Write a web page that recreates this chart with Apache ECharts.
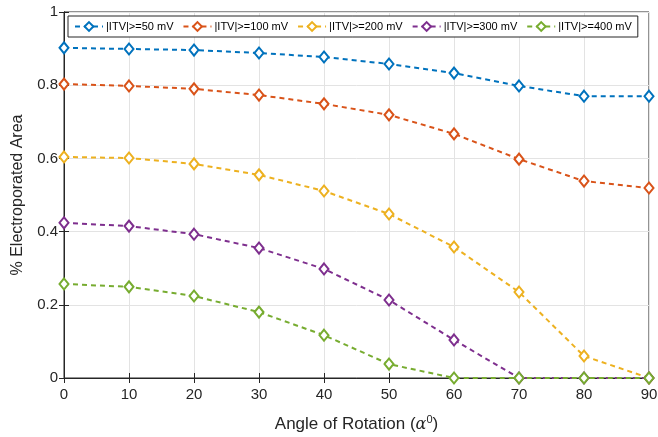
<!DOCTYPE html>
<html>
<head>
<meta charset="utf-8">
<script src="https://cdn.jsdelivr.net/npm/echarts@6/dist/echarts.min.js"></script>
<style>
html,body{margin:0;padding:0;background:#fff;}
#main{width:658px;height:437px;}
</style>
</head>
<body>
<div id="main"></div>
<script>
var angles = [0, 10, 20, 30, 40, 50, 60, 70, 80, 90];
var names = ['|ITV|>=50 mV', '|ITV|>=100 mV', '|ITV|>=200 mV', '|ITV|>=300 mV', '|ITV|>=400 mV'];
var itv50  = [0.902, 0.899, 0.896, 0.888, 0.877, 0.858, 0.833, 0.798, 0.770, 0.770];
var itv100 = [0.803, 0.798, 0.790, 0.773, 0.749, 0.719, 0.667, 0.598, 0.538, 0.519];
var itv200 = [0.604, 0.601, 0.585, 0.555, 0.511, 0.448, 0.358, 0.235, 0.060, 0.000];
var itv300 = [0.424, 0.415, 0.393, 0.355, 0.298, 0.213, 0.104, 0.000, 0.000, 0.000];
var itv400 = [0.257, 0.249, 0.224, 0.180, 0.117, 0.038, 0.000, 0.000, 0.000, 0.000];
var colors = ['#0072BD', '#D95319', '#EDB120', '#7E2F8E', '#77AC30'];
var allData = [itv50, itv100, itv200, itv300, itv400];

var font = 'Liberation Sans, Arial, Helvetica, sans-serif';
var axisColor = '#262626';

/* 组装系列 */
var series = [];
for (var i = 0; i < allData.length; i++) {
    var pts = angles.map(function (a, k) { return [a, allData[i][k]]; });
    series.push({
        name: names[i],
        type: 'line',
        data: pts,
        symbol: 'diamond',
        symbolSize: [9, 11],
        showAllSymbol: true,
        itemStyle: { color: '#fff', borderColor: colors[i], borderWidth: 2 },
        lineStyle: { color: colors[i], width: 2, type: [5, 4] },
        emphasis: { disabled: true },
        z: 3 + i
    });
}

var myChart = echarts.init(document.getElementById('main'), null, { renderer: 'canvas' });
var option = {
    animation: false,
    backgroundColor: '#fff',
    grid: { left: 64, right: 9, top: 12, bottom: 59, show: true, borderColor: axisColor, borderWidth: 1,
        outerBoundsMode: 'none', containLabel: false },
    legend: {
        data: names.map(function (n, i) {
            return { name: n, itemStyle: { color: '#fff', borderColor: colors[i], borderWidth: 2 }, lineStyle: { color: colors[i], width: 2, type: [5, 4] } };
        }),
        left: 68, top: 16,
        width: 640,
        itemWidth: 28, itemHeight: 11,
        itemGap: 9,
        padding: [5, 6, 5, 6],
        backgroundColor: '#fff',
        borderColor: axisColor, borderWidth: 1,
        textStyle: { fontFamily: font, fontSize: 11, color: '#000', padding: [0, 0, 0, -2] }
    },
    xAxis: [{
        type: 'value', min: 0, max: 90, interval: 10,
        name: '{a|Angle of Rotation (}{i|α}{s|0}{a|)}',
        nameLocation: 'middle', nameGap: 36,
        nameTextStyle: {
            rich: {
                a: { fontFamily: font, fontSize: 17, color: axisColor },
                i: { fontFamily: 'DejaVu Serif, serif', fontStyle: 'italic', fontSize: 16, color: axisColor },
                s: { fontFamily: font, fontSize: 11, color: axisColor, verticalAlign: 'top', padding: [0, 0, 10, 0] }
            }
        },
        axisLine: { show: true, lineStyle: { color: axisColor, width: 1 } },
        axisTick: { inside: true, length: 5, lineStyle: { color: axisColor } },
        axisLabel: { fontFamily: font, fontSize: 15, color: axisColor, margin: 9 },
        splitLine: { show: true, lineStyle: { color: '#e3e3e3', width: 1 } }
    }, {
        type: 'value', min: 0, max: 90, interval: 10, position: 'top',
        axisLine: { show: true, lineStyle: { color: axisColor } },
        axisTick: { inside: true, length: 5, lineStyle: { color: axisColor } },
        axisLabel: { show: false }, splitLine: { show: false }
    }],
    yAxis: [{
        type: 'value', min: 0, max: 1, interval: 0.2,
        name: '% Electroporated Area',
        nameLocation: 'middle', nameGap: 38,
        nameTextStyle: { fontFamily: font, fontSize: 16, color: axisColor },
        axisLine: { show: true, lineStyle: { color: axisColor, width: 1 } },
        axisTick: { show: true, inside: true, length: 5, lineStyle: { color: axisColor } },
        axisLabel: { fontFamily: font, fontSize: 15, color: axisColor, margin: 6,
            formatter: function (v) { return String(Math.round(v * 10) / 10); } },
        splitLine: { show: true, lineStyle: { color: '#e3e3e3', width: 1 } }
    }, {
        type: 'value', min: 0, max: 1, interval: 0.2, position: 'right',
        axisLine: { show: true, lineStyle: { color: axisColor } },
        axisTick: { show: true, inside: true, length: 5, lineStyle: { color: axisColor } },
        axisLabel: { show: false }, splitLine: { show: false }
    }],
    series: series
};
myChart.setOption(option);
</script>
</body>
</html>
